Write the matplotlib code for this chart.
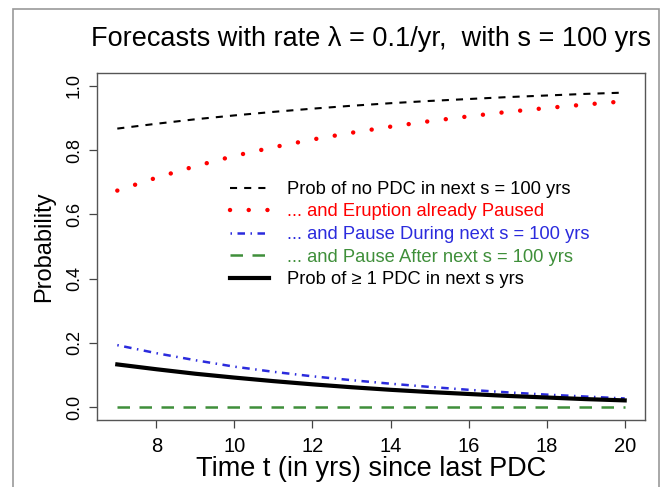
import matplotlib
matplotlib.use("Agg")
import matplotlib.pyplot as plt
from matplotlib.patches import Rectangle

plt.rcParams['font.family'] = ['Liberation Sans', 'DejaVu Sans']

# tiempo desde el ultimo PDC (años)
t = [7, 8, 9, 10, 11, 12, 13, 14, 15, 16, 17, 18, 19, 20]

# valores
no_pdc = [0.867, 0.882, 0.896, 0.908, 0.919, 0.929, 0.938, 0.946, 0.953, 0.959, 0.965, 0.970, 0.975, 0.979]
paused = [0.674, 0.714, 0.750, 0.782, 0.809, 0.833, 0.854, 0.873, 0.890, 0.905, 0.919, 0.931, 0.942, 0.952]
pause_during = [0.193, 0.168, 0.146, 0.126, 0.110, 0.096, 0.084, 0.073, 0.063, 0.054, 0.046, 0.039, 0.033, 0.027]
pause_after = [0.0, 0.0, 0.0, 0.0, 0.0, 0.0, 0.0, 0.0, 0.0, 0.0, 0.0, 0.0, 0.0, 0.0]
pdc = [0.133, 0.118, 0.104, 0.092, 0.081, 0.071, 0.062, 0.054, 0.047, 0.041, 0.035, 0.030, 0.025, 0.021]

labels = [
    "Prob of no PDC in next s = 100 yrs",
    "... and Eruption already Paused",
    "... and Pause During next s = 100 yrs",
    "... and Pause After next s = 100 yrs",
    "Prob of \u2265 1 PDC in next s yrs",
]

W, H = 668, 487
fig = plt.figure(figsize=(W / 100, H / 100), dpi=100)

# marco exterior gris
fig.patches.append(Rectangle((13 / W, -0.1), 646 / W, 1.1 - 9 / H, transform=fig.transFigure,
                             fill=False, edgecolor="#999999", linewidth=1.2))

ax = fig.add_axes([97 / W, 1 - 420 / H, 548 / W, 347 / H])

green = "#3f8f3a"
ax.plot(t, no_pdc, color="black", lw=1.5, linestyle=(0, (3.4, 3.4)), label=labels[0])
ax.plot(t, paused, color="red", lw=3.2, linestyle=(0, (0.01, 4.2)), dash_capstyle="round", label=labels[1])
ax.plot(t, pause_during, color="#2b2bdd", lw=1.8, linestyle=(0, (0.6, 2.2, 3.0, 2.2)), label=labels[2])
ax.plot(t, pause_after, color=green, lw=1.8, linestyle=(0, (5.0, 3.8)), label=labels[3])
ax.plot(t, pdc, color="black", lw=3.0, label=labels[4])

ax.set_xlim(6.48, 20.52)
ax.set_ylim(-0.04, 1.04)
ax.set_xticks([8, 10, 12, 14, 16, 18, 20])
ax.set_yticks([0.0, 0.2, 0.4, 0.6, 0.8, 1.0])
ax.set_yticklabels(["0.0", "0.2", "0.4", "0.6", "0.8", "1.0"], rotation=90, va="center")
ax.tick_params(length=6, width=0.9, color="#444444", labelsize=13, pad=4)
ax.tick_params(axis="x", labelsize=14.5, pad=6)
for sp in ax.spines.values():
    sp.set_color("#555555")
    sp.set_linewidth(1.0)

ax.set_title("Forecasts with rate \u03bb = 0.1/yr,  with s = 100 yrs", fontsize=19.5, pad=19.5)
ax.set_xlabel("Time t (in yrs) since last PDC", fontsize=19.5, labelpad=0)
ax.set_ylabel("Probability", fontsize=17, labelpad=8)

ax.legend(loc="upper left", bbox_to_anchor=(230 / W, 1 - 181 / H), bbox_transform=fig.transFigure,
          frameon=False, fontsize=13.2, borderpad=0, borderaxespad=0,
          labelcolor="linecolor", handlelength=2.1, handletextpad=1.0, labelspacing=0.3)

fig.savefig("out.png", dpi=100)
